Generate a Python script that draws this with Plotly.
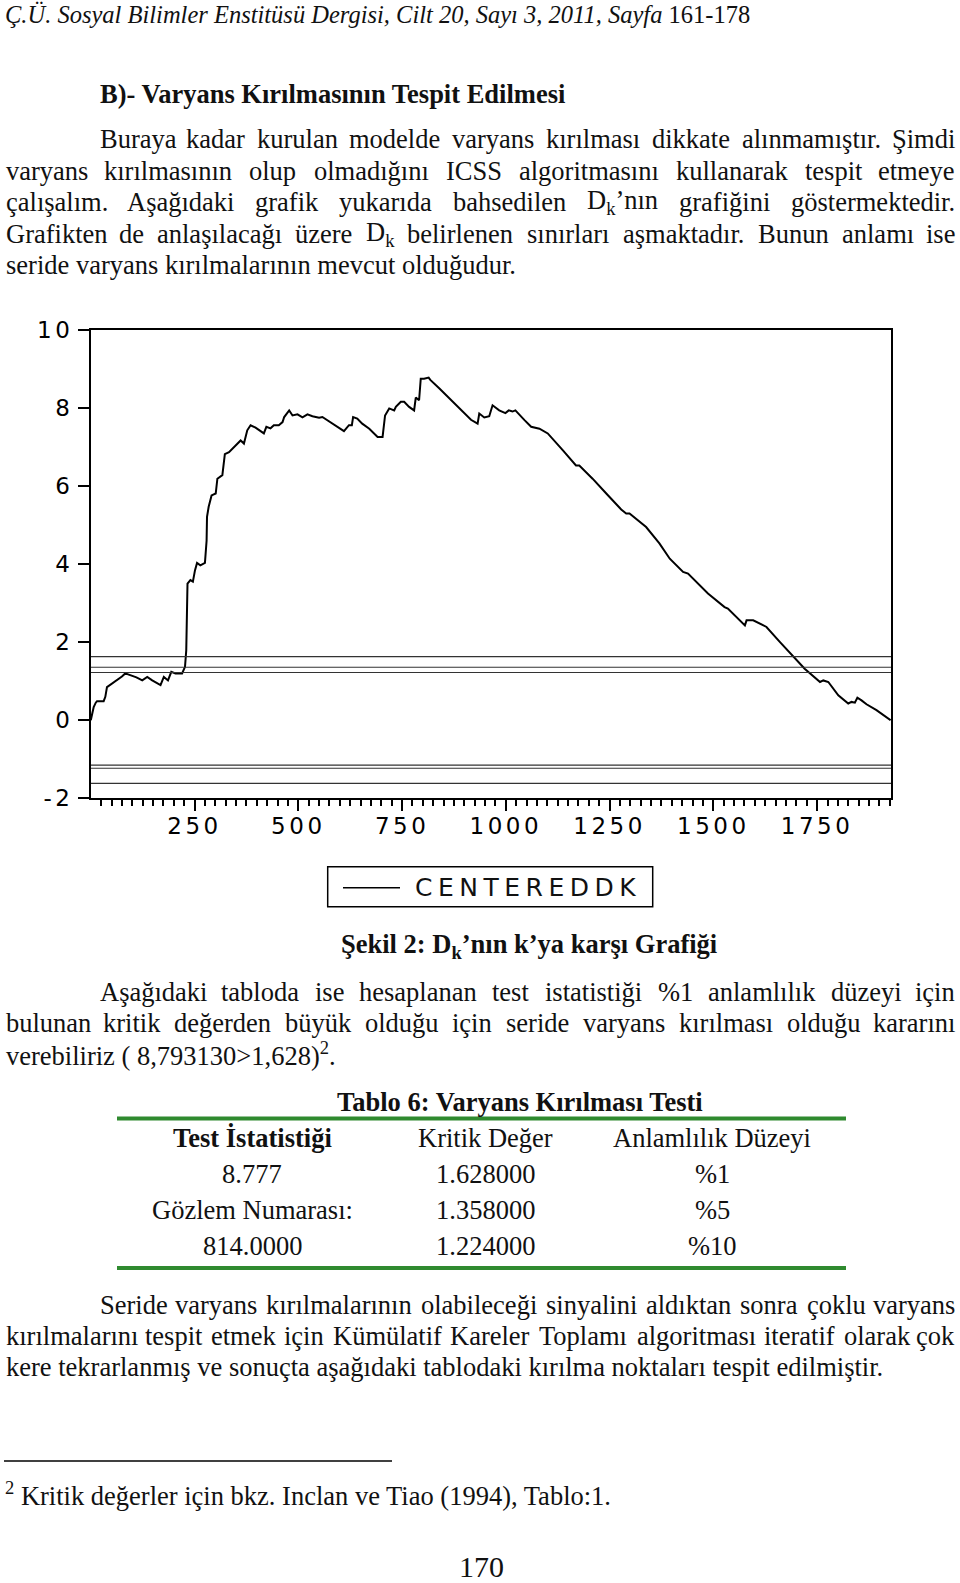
import plotly.graph_objects as go

W, H = 960, 1583

k_obs = [0, 4, 7, 12, 15, 31, 35, 39, 51, 60, 67, 75, 83, 95, 110, 124, 136, 148, 160, 168,
         176, 186, 194, 204, 220, 227, 230, 233, 240, 246, 251, 256, 264, 275, 279, 280, 284,
         291, 301, 305, 317, 323, 333, 349, 361, 369, 377, 385, 397, 417, 423, 433, 441, 453,
         462, 466, 478, 486, 498, 510, 522, 534, 550, 558, 570, 582, 610, 622, 629, 632, 642,
         654, 671, 691, 703, 709, 719, 731, 735, 747, 755, 767, 779, 783, 791, 795, 803, 814,
         818, 840, 856, 864, 892, 916, 932, 936, 948, 960, 968, 984, 999, 1007, 1016, 1023,
         1045, 1061, 1081, 1101, 1137, 1169, 1177, 1209, 1242, 1278, 1290, 1298, 1338, 1370,
         1395, 1427, 1439, 1487, 1527, 1535, 1576, 1580, 1596, 1616, 1628, 1660, 1696, 1720,
         1757, 1765, 1777, 1801, 1825, 1833, 1841, 1847, 1857, 1869, 1893, 1927]
dk_vals = [0.0, 0.2, 0.34, 0.45, 0.49, 0.49, 0.6, 0.85, 0.94, 1.0, 1.07, 1.12, 1.2, 1.15, 1.1,
           1.02, 1.11, 1.02, 0.95, 0.9, 1.11, 1.02, 1.24, 1.2, 1.2, 1.37, 1.79, 3.5, 3.59, 3.55,
           3.84, 4.03, 3.97, 4.03, 4.6, 5.21, 5.47, 5.76, 5.81, 6.19, 6.28, 6.82, 6.87, 7.05,
           7.17, 7.09, 7.43, 7.56, 7.5, 7.35, 7.52, 7.48, 7.56, 7.56, 7.64, 7.77, 7.94, 7.81,
           7.84, 7.76, 7.84, 7.79, 7.75, 7.77, 7.69, 7.6, 7.41, 7.56, 7.56, 7.77, 7.73, 7.6,
           7.47, 7.26, 7.26, 7.81, 7.99, 7.94, 8.03, 8.16, 8.16, 8.03, 7.94, 8.27, 8.2, 8.75,
           8.75, 8.78, 8.72, 8.5, 8.33, 8.27, 7.96, 7.7, 7.6, 7.86, 7.76, 7.79, 8.07, 7.94, 7.87,
           7.94, 7.91, 7.94, 7.69, 7.52, 7.47, 7.35, 6.92, 6.53, 6.53, 6.19, 5.81, 5.4, 5.3, 5.3,
           4.95, 4.53, 4.14, 3.8, 3.76, 3.25, 2.9, 2.86, 2.43, 2.56, 2.56, 2.46, 2.39, 2.01, 1.58,
           1.32, 0.98, 1.02, 0.98, 0.64, 0.43, 0.47, 0.45, 0.58, 0.51, 0.41, 0.26, 0.0]

crit_upper = [1.628, 1.358, 1.224]
crit_lower = [-1.15, -1.23, -1.62]
x_ticks = [250, 500, 750, 1000, 1250, 1500, 1750]
y_ticks = [-2, 0, 2, 4, 6, 8, 10]
y_labels = ["-2", "0", "2", "4", "6", "8", "10"]
series_name = "CENTEREDDK"

table_title = "Tablo 6: Varyans Kırılması Testi"
table_header = ["Test İstatistiği", "Kritik Değer", "Anlamlılık Düzeyi"]
col_stat = ["8.777", "Gözlem Numarası:", "814.0000"]
col_crit = ["1.628000", "1.358000", "1.224000"]
col_level = ["%1", "%5", "%10"]

header = "<i>Ç.Ü. Sosyal Bilimler Enstitüsü Dergisi, Cilt 20, Sayı 3, 2011, Sayfa</i> 161-178"
section = "<b>B)- Varyans Kırılmasının Tespit Edilmesi</b>"
par1 = [
    "Buraya kadar kurulan modelde varyans kırılması dikkate alınmamıştır. Şimdi",
    "varyans kırılmasının olup olmadığını ICSS algoritmasını kullanarak tespit etmeye",
    "çalışalım. Aşağıdaki grafik yukarıda bahsedilen D<sub>k</sub>’nın grafiğini göstermektedir.",
    "Grafikten de anlaşılacağı üzere D<sub>k</sub> belirlenen sınırları aşmaktadır. Bunun anlamı ise",
    "seride varyans kırılmalarının mevcut olduğudur.",
]
caption = "<b>Şekil 2: D<sub>k</sub>’nın k’ya karşı Grafiği</b>"
par2 = [
    "Aşağıdaki tabloda ise hesaplanan test istatistiği %1 anlamlılık düzeyi için",
    "bulunan kritik değerden büyük olduğu için seride varyans kırılması olduğu kararını",
    "verebiliriz ( 8,793130>1,628)<sup>2</sup>.",
]
par3 = [
    "Seride varyans kırılmalarının olabileceği sinyalini aldıktan sonra çoklu varyans",
    "kırılmalarını tespit etmek için Kümülatif Kareler Toplamı algoritması iteratif olarak çok",
    "kere tekrarlanmış ve sonuçta aşağıdaki tablodaki kırılma noktaları tespit edilmiştir.",
]
footnote = "<sup>2</sup> Kritik değerler için bkz. Inclan ve Tiao (1994), Tablo:1."
page_no = "170"

SERIF = "Liberation Serif"
SANS = "DejaVu Sans"
FS = 26.5
INK = "#111111"
GREEN = "#2f8a2f"

# Times New Roman advance widths (1/1000 em), used to justify the body text
TIMES = {" ": 250, "%": 833, "(": 333, ")": 333, ",": 250, "-": 333, ".": 250,
         ":": 278, ">": 564, "’": 333}
for chars, w in [("0123456789", 500), ("acezç", 444), ("bdghknopquvxyğöü", 500),
                 ("fr", 333), ("ijltı", 278), ("m", 778), ("sş", 389), ("w", 722),
                 ("ADGHKNOUVXYÖÜĞ", 722), ("BCRÇ", 667), ("ELTZ", 611), ("FPSŞ", 556),
                 ("Iİ", 333), ("J", 389), ("M", 889), ("W", 944)]:
    for c in chars:
        TIMES[c] = w


def px_x(x):
    return x / W


def px_y(y):
    return 1 - y / H


def spaced(s, px):
    return f'<span style="letter-spacing:{px}px">{s}</span>'


def text_width(s, size=FS):
    total, scale, i = 0.0, 1.0, 0
    while i < len(s):
        if s.startswith("<sub>", i) or s.startswith("<sup>", i):
            scale, i = 0.7, i + 5
            continue
        if s.startswith("</sub>", i) or s.startswith("</sup>", i):
            scale, i = 1.0, i + 6
            continue
        total += TIMES.get(s[i], 500) * scale
        i += 1
    return total * size / 1000


def note(fig, text, x, y, anchor="left", size=FS, family=SERIF):
    fig.add_annotation(text=text, x=px_x(x), y=px_y(y), xref="paper", yref="paper",
                       xanchor=anchor, yanchor="middle", showarrow=False,
                       font=dict(family=family, size=size, color=INK))


def paragraph(fig, lines, y0, step, left=4, indent=98, right=957):
    for n, line in enumerate(lines):
        y = y0 + n * step
        x0 = indent if n == 0 else left
        if n == len(lines) - 1:
            note(fig, line, x0, y)
            continue
        words = line.split(" ")
        widths = [text_width(w) for w in words]
        gap = (right - x0 - sum(widths)) / (len(words) - 1)
        x = x0
        for i, (w, wd) in enumerate(zip(words, widths)):
            if i == 0:
                note(fig, w, x, y, "left")
            elif i == len(words) - 1:
                note(fig, w, right, y, "right")
            else:
                note(fig, w, x + wd / 2, y, "center")
            x += wd + gap


fig = go.Figure()
fig.add_trace(go.Scatter(x=k_obs, y=dk_vals, mode="lines", name=series_name,
                         line=dict(color="black", width=2), showlegend=False))
for v in crit_upper + crit_lower:
    fig.add_hline(y=v, line=dict(color="#333333", width=1.2))

axis_font = dict(family=SANS, size=23, color="black")
fig.update_xaxes(
    domain=[px_x(91), px_x(891)], range=[0.5, 1928], automargin=False,
    tickmode="array", tickvals=x_ticks, ticktext=[spaced(v, 3.5) for v in x_ticks],
    ticks="outside", ticklen=11, tickwidth=1.5, ticklabelstandoff=-5,
    tickcolor="black", tickfont=axis_font, showgrid=False, zeroline=False,
    showline=True, linecolor="black", linewidth=2, mirror=True,
    minor=dict(tickmode="linear", tick0=0, dtick=25, ticks="outside", ticklen=6,
               tickwidth=1.5, tickcolor="black", showgrid=False),
)
fig.update_yaxes(
    domain=[px_y(798.3), px_y(330)], range=[-2, 10], automargin=False,
    tickmode="array", tickvals=y_ticks, ticktext=[spaced(t, 3.5) for t in y_labels],
    ticks="outside", ticklen=11,
    tickwidth=1.5, tickcolor="black", tickfont=axis_font, showgrid=False, zeroline=False,
    showline=True, linecolor="black", linewidth=2, mirror=True,
)

# legend box, drawn in the EViews style
fig.add_shape(type="rect", xref="paper", yref="paper", x0=px_x(327.7), x1=px_x(652.7),
              y0=px_y(906.7), y1=px_y(866.7), line=dict(color="black", width=1.5))
fig.add_shape(type="line", xref="paper", yref="paper", x0=px_x(343), x1=px_x(400),
              y0=px_y(887.7), y1=px_y(887.7), line=dict(color="black", width=1.5))
note(fig, spaced(series_name, 5.5), 413, 887.5, size=25, family=SANS)

# page text
note(fig, header, 3, 15, size=24.5)
note(fig, section, 98, 94)
paragraph(fig, par1, 139, 31.5)
note(fig, caption, 529, 946, anchor="center")
paragraph(fig, par2, 992, 31)

# table
note(fig, f"<b>{table_title}</b>", 520, 1102, anchor="center")
for yy in (1118.5, 1268):
    fig.add_shape(type="line", xref="paper", yref="paper", x0=px_x(117), x1=px_x(846),
                  y0=px_y(yy), y1=px_y(yy), line=dict(color=GREEN, width=4))
col_x = [252, 485, 712]
note(fig, f"<b>{table_header[0]}</b>", col_x[0], 1137.5, anchor="center")
note(fig, table_header[1], col_x[1], 1137.5, anchor="center")
note(fig, table_header[2], col_x[2], 1137.5, anchor="center")
for r, yy in enumerate([1173.5, 1209.5, 1246]):
    note(fig, col_stat[r], col_x[0], yy, anchor="center")
    note(fig, col_crit[r], col_x[1], yy, anchor="center")
    note(fig, col_level[r], col_x[2], yy, anchor="center")

paragraph(fig, par3, 1305, 31)

fig.add_shape(type="line", xref="paper", yref="paper", x0=px_x(4), x1=px_x(392),
              y0=px_y(1461), y1=px_y(1461), line=dict(color="black", width=1.5))
note(fig, footnote, 3, 1494)
note(fig, page_no, 481, 1566, anchor="center", size=30)

fig.update_layout(
    width=W, height=H, autosize=False,
    margin=dict(l=0, r=0, t=0, b=0, autoexpand=False),
    plot_bgcolor="white", paper_bgcolor="white",
    showlegend=False,
)

fig.write_html(
    "out.html",
    config={"displayModeBar": False},
    post_script="document.body.style.margin='0';document.body.style.overflow='hidden';",
)
